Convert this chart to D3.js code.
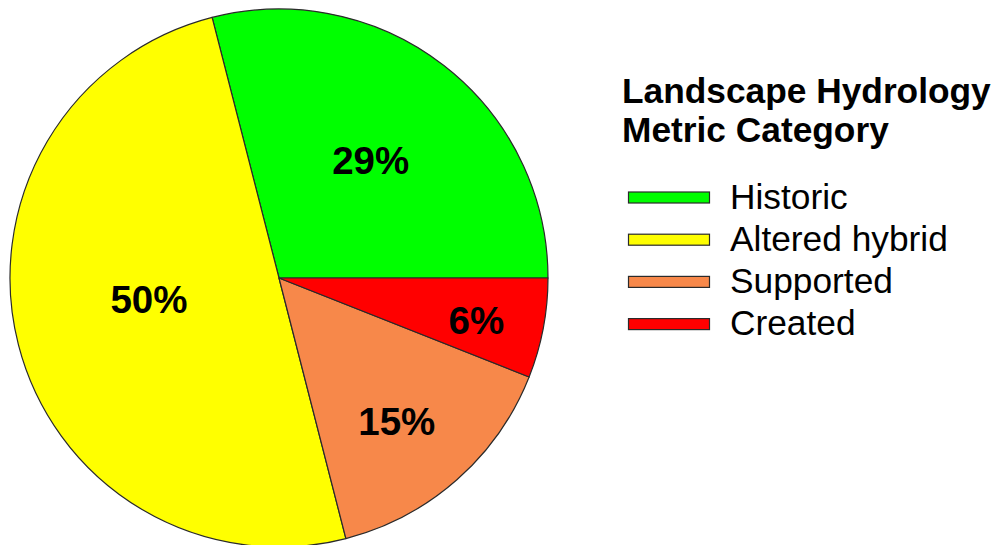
<!DOCTYPE html>
<html>
<head>
<meta charset="utf-8">
<script src="https://cdn.jsdelivr.net/npm/d3@7"></script>
<style>
  html, body { margin: 0; padding: 0; background: #fff; }
  svg { display: block; font-family: "Liberation Sans", Arial, Helvetica, sans-serif; }
</style>
</head>
<body>
<svg id="chart" width="998" height="545"></svg>
<script>
// Landscape hydrology metric categories and their share (%)
const categories = ["Historic", "Altered hybrid", "Supported", "Created"];
const shares = [29, 50, 15, 6];
const colors = ["#00ff00", "#ffff00", "#f7884a", "#ff0000"];
const titleLines = ["Landscape Hydrology", "Metric Category"];

// Layout
const cx = 279, cy = 278, radius = 269;
// placement of each percentage label: radius fraction and angular nudge (degrees)
const labelRadius = [0.556, 0.49, 0.69, 0.75];
const labelTurn = [0, 5, 2, 1.2];

const svg = d3.select("#chart");

const rows = categories.map((name, i) => ({
  name, value: shares[i], color: colors[i], lr: labelRadius[i], lt: labelTurn[i]
}));

// slices run counter-clockwise starting at 3 o'clock
const pie = d3.pie()
  .sort(null)
  .value(d => d.value)
  .startAngle(Math.PI / 2)
  .endAngle(Math.PI / 2 - 2 * Math.PI);

const arcs = pie(rows);
const arc = d3.arc().innerRadius(0).outerRadius(radius);

const g = svg.append("g").attr("transform", `translate(${cx},${cy})`);

g.selectAll("path.slice")
  .data(arcs)
  .join("path")
  .attr("class", "slice")
  .attr("d", arc)
  .attr("fill", d => d.data.color)
  .attr("stroke", "#2a2a2a")
  .attr("stroke-width", 1.2)
  .attr("stroke-linejoin", "round");

g.selectAll("text.pct")
  .data(arcs)
  .join("text")
  .attr("class", "pct")
  .attr("transform", d => {
    const r = radius * d.data.lr;
    const a = (d.startAngle + d.endAngle) / 2 + d.data.lt * Math.PI / 180;
    return `translate(${r * Math.sin(a)},${-r * Math.cos(a)})`;
  })
  .attr("text-anchor", "middle")
  .attr("dy", "0.36em")
  .attr("font-size", 38.5)
  .attr("font-weight", "bold")
  .attr("fill", "#000")
  .text(d => d.data.value + "%");

// Legend
const legend = svg.append("g").attr("transform", "translate(622,0)");

legend.selectAll("text.title")
  .data(titleLines)
  .join("text")
  .attr("class", "title")
  .attr("x", 0)
  .attr("y", (d, i) => 103 + i * 39)
  .attr("font-size", 35.3)
  .attr("font-weight", "bold")
  .attr("fill", "#000")
  .text(d => d);

const item = legend.selectAll("g.item")
  .data(rows)
  .join("g")
  .attr("class", "item")
  .attr("transform", (d, i) => `translate(0,${197.5 + i * 42.2})`);

item.append("rect")
  .attr("x", 6.5)
  .attr("y", -5.5)
  .attr("width", 81)
  .attr("height", 11)
  .attr("fill", d => d.color)
  .attr("stroke", "#2a2a2a")
  .attr("stroke-width", 1.2);

item.append("text")
  .attr("x", 108)
  .attr("y", 11)
  .attr("font-size", 35.3)
  .attr("fill", "#000")
  .text(d => d.name);
</script>
</body>
</html>
